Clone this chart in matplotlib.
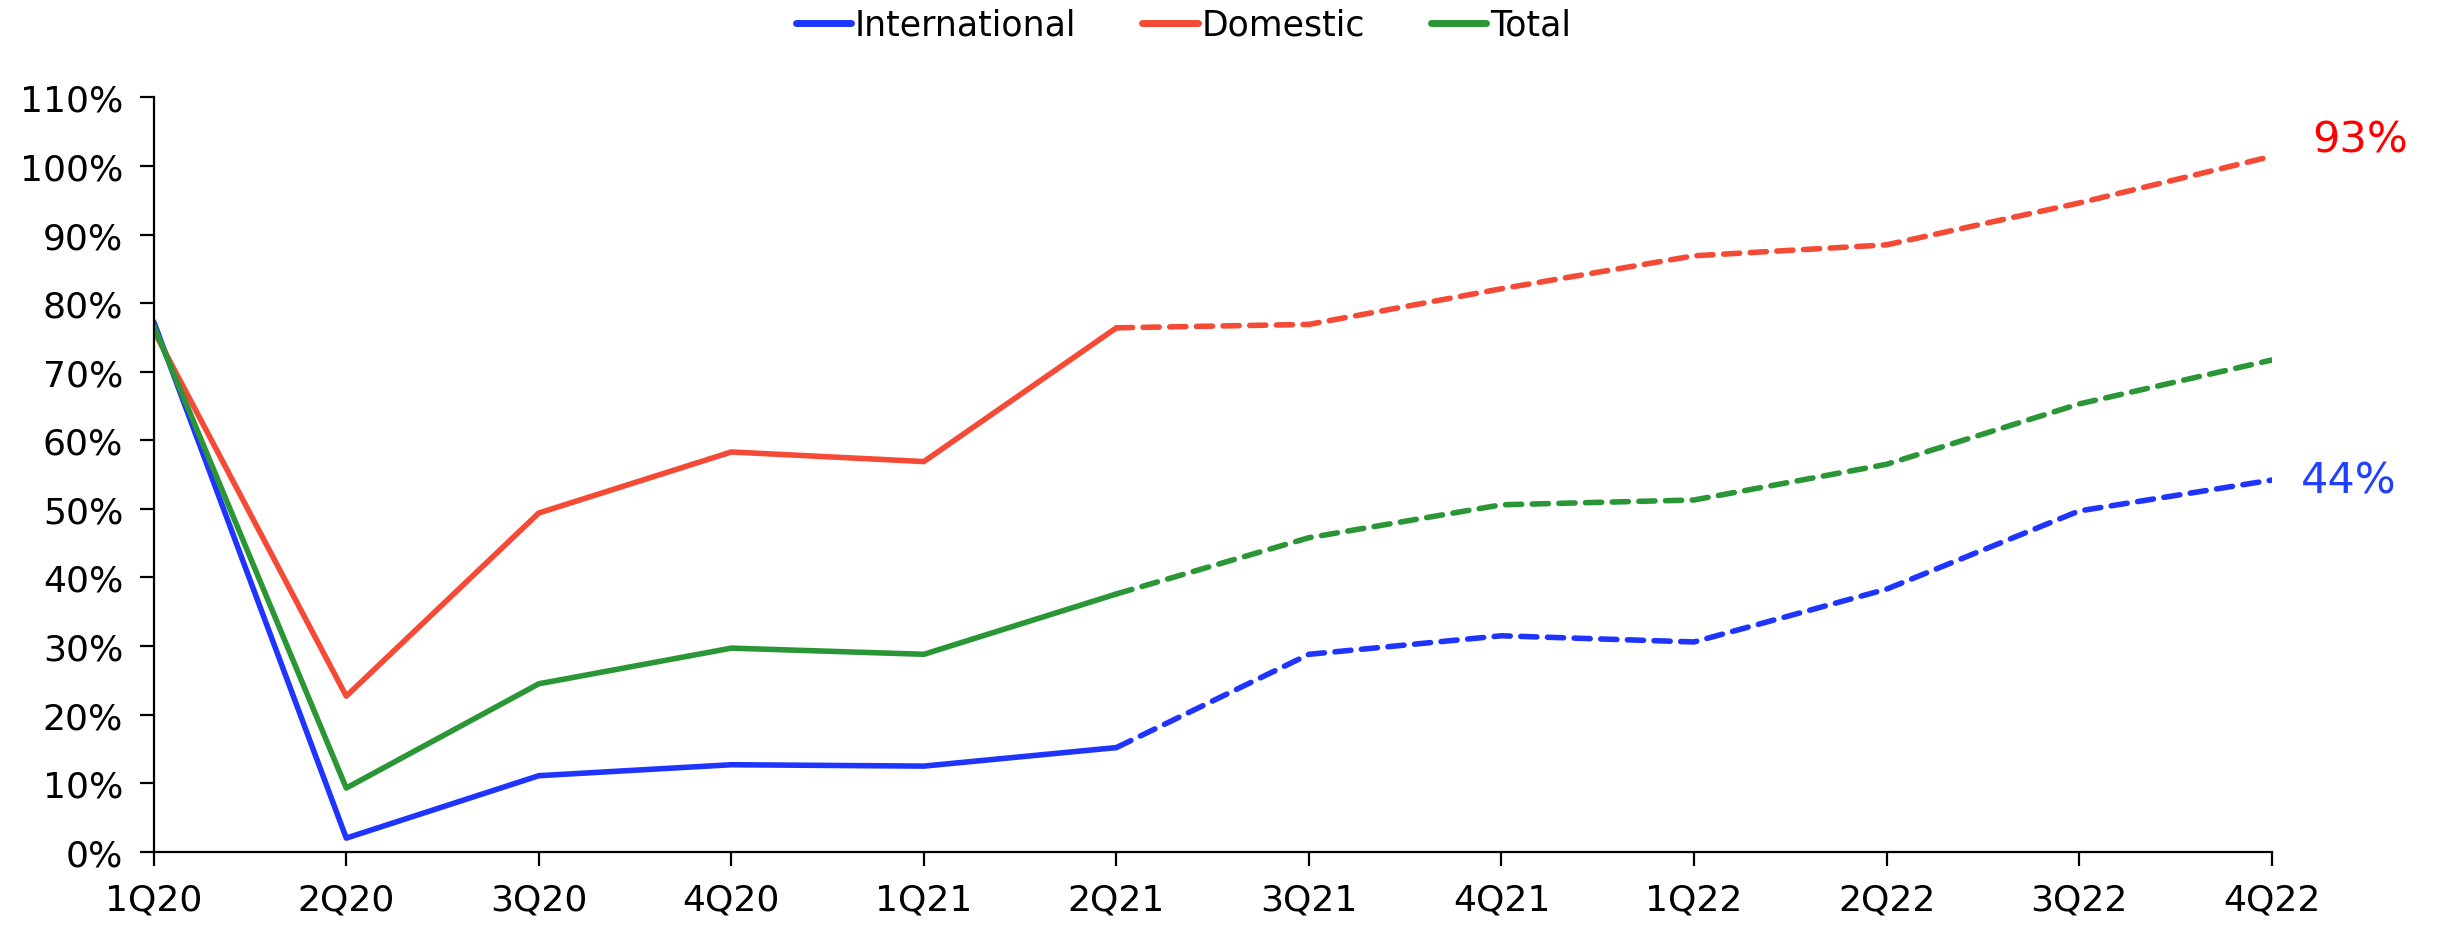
import numpy as np
import matplotlib.pyplot as plt
from matplotlib.ticker import PercentFormatter

# ============================================
# Data
# ============================================
quarters = ["1Q20", "2Q20", "3Q20", "4Q20", "1Q21", "2Q21",
            "3Q21", "4Q21", "1Q22", "2Q22", "3Q22", "4Q22"]
international = [77.3, 2.0, 11.1, 12.7, 12.5, 15.2, 28.8, 31.5, 30.6, 38.3, 49.7, 54.2]
domestic = [76.0, 22.7, 49.4, 58.3, 56.9, 76.4, 76.9, 82.1, 86.9, 88.5, 94.6, 101.4]
total = [76.7, 9.3, 24.5, 29.7, 28.8, 37.6, 45.8, 50.6, 51.3, 56.5, 65.3, 71.7]
last_actual = 5  # 2Q21: solid up to here, dashed afterwards

end_labels = {"Domestic": "93%", "International": "44%"}

series = [
    ("International", international, "#1f35ff"),
    ("Domestic", domestic, "#f44a36"),
    ("Total", total, "#2a9636"),
]

# ============================================
# Plot
# ============================================
fig = plt.figure(figsize=(24.4, 9.28), dpi=100)
ax = fig.add_axes([0.063, 0.081, 0.868, 0.813])

x = np.arange(len(quarters))
lw = 4.0
for name, vals, col in series:
    vals = np.array(vals)
    ax.plot(x[:last_actual + 1], vals[:last_actual + 1], color=col, lw=lw,
            solid_capstyle="round", solid_joinstyle="round", label=name)
    ax.plot(x[last_actual:], vals[last_actual:], color=col, lw=lw,
            dashes=(2.9, 1.9), dash_capstyle="round", dash_joinstyle="round")

# end labels
ax.text(x[-1] + 0.21, domestic[-1] + 2.4, end_labels["Domestic"], color="#ff0000",
        fontsize=31, va="center", ha="left", clip_on=False)
ax.text(x[-1] + 0.15, international[-1], end_labels["International"], color="#2040ff",
        fontsize=31, va="center", ha="left", clip_on=False)

ax.set_xlim(0, len(quarters) - 1)
ax.set_ylim(0, 110)
ax.set_xticks(x)
ax.set_xticklabels(quarters)
ax.set_yticks(np.arange(0, 111, 10))
ax.yaxis.set_major_formatter(PercentFormatter(decimals=0))

for s in ["top", "right"]:
    ax.spines[s].set_visible(False)
for s in ["left", "bottom"]:
    ax.spines[s].set_linewidth(1.6)
ax.tick_params(axis="both", labelsize=26, length=10, width=1.6, direction="out")
ax.tick_params(axis="x", pad=12)
ax.tick_params(axis="y", pad=12)

leg = fig.legend(loc="center", bbox_to_anchor=(0.485, 0.972), ncol=3,
                 frameon=False, handlelength=1.6, handletextpad=0.1,
                 columnspacing=1.9, fontsize=25)
for h in leg.legend_handles:
    h.set_linewidth(5)

plt.savefig("out.png", dpi=100)
